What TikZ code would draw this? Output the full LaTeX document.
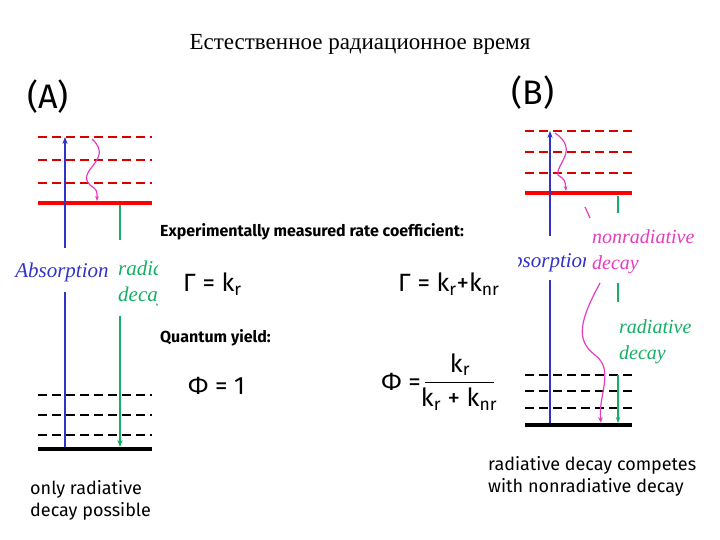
\documentclass[tikz,border=0pt]{standalone}
\usepackage{fontspec}
\setsansfont{Fira Sans}
\newfontfamily\cyr{Liberation Serif}
\usetikzlibrary{arrows.meta}
\definecolor{gcol}{RGB}{20,175,100}
\definecolor{bcol}{RGB}{50,50,200}
\definecolor{pcol}{RGB}{230,60,190}
\begin{document}
\begin{tikzpicture}[x=1pt,y=-1pt,
 rd/.style={red!85!black,line width=1.5pt,dash pattern=on 9pt off 5pt},
 rthick/.style={red,line width=3.5pt},
 bd/.style={black,line width=1.5pt,dash pattern=on 9pt off 5pt},
 bthick/.style={black,line width=4pt},
 ab/.style={bcol,line width=1.6pt},
 gr/.style={gcol,line width=1.8pt},
 pk/.style={pcol,line width=1.2pt},
 lab/.style={font=\sffamily, anchor=west, inner sep=0pt},
 fm/.style={anchor=west, inner sep=0pt, font=\sffamily\fontsize{25}{25}\selectfont},
 it/.style={font=\cyr\itshape\fontsize{21}{21}\selectfont, inner sep=0pt}]
\useasboundingbox (0,0) rectangle (720,540);
\node[font=\cyr\fontsize{23}{23}\selectfont] (title) at (360,44) {Естественное радиационное время};
\node[font=\sffamily\fontsize{34}{34}\selectfont] (A) at (48,97) {(A)};
\node[font=\sffamily\fontsize{34}{34}\selectfont] (B) at (533,93) {(B)};
% (A)
\foreach \y in {137,160,183}{\draw[rd] (38,\y) -- (152,\y);}
\draw[rthick] (38,203) -- (152,203);
\foreach \y in {395,415,435}{\draw[bd] (38,\y) -- (152,\y);}
\draw[bthick] (38,449) -- (152,449);
\coordinate (a1) at (65,447); \coordinate (a2) at (65,292);
\coordinate (a3) at (65,248); \coordinate (a4) at (65,137);
\draw[ab] (a1) -- (a2);
\draw[ab,-{Stealth[length=7pt]}] (a3) -- (a4);
\node[it,text=bcol] (absA) at (62,272) {Absorption};
\coordinate (g1) at (120,205); \coordinate (g2) at (120,240);
\coordinate (g3) at (120,316); \coordinate (g4) at (120,447);
\draw[gr] (g1) -- (g2);
\draw[gr,-{Stealth[length=7pt]}] (g3) -- (g4);
\begin{scope}
\clip (110,250) rectangle (157,310);
\node[it,text=gcol,anchor=west] (radA) at (118,268) {radiative};
\node[it,text=gcol,anchor=west] (decA) at (118,296) {decay};
\end{scope}
\coordinate (wA1) at (92,139); \coordinate (wA2) at (97,201);
\draw[pk,-{Stealth[length=5pt]}] (wA1) .. controls (115,160) and (75,170) .. (90,185) .. controls (97,190) .. (wA2);
% middle
\node[lab,font=\sffamily\bfseries\fontsize{16}{16}\selectfont] (exp) at (160,232) {Experimentally measured rate coefficient:};
\node[fm] (g1t) at (183,284) {Γ = k\textsubscript{r}};
\node[fm] (g2t) at (398,284) {Γ = k\textsubscript{r}+k\textsubscript{nr}};
\node[lab,font=\sffamily\bfseries\fontsize{16}{16}\selectfont] (qy) at (160,338) {Quantum yield:};
\node[fm] (p1) at (188,386) {Φ = 1};
\node[fm,anchor=east] (p2) at (421,382) {Φ =};
\node[fm,anchor=south] (num) at (460,376) {k\textsubscript{r}};
\node[fm,anchor=north] (den) at (459,388) {k\textsubscript{r} + k\textsubscript{nr}};
\draw[line width=0.8pt] (425,382) -- (494,382);
% (B)
\foreach \y in {131,152,173}{\draw[rd] (525,\y) -- (632,\y);}
\draw[rthick] (525,193) -- (632,193);
\foreach \y in {375,391,408}{\draw[bd] (525,\y) -- (632,\y);}
\draw[bthick] (525,425) -- (632,425);
\coordinate (b1) at (550,423); \coordinate (b2) at (550,280);
\coordinate (b3) at (550,236); \coordinate (b4) at (550,131);
\draw[ab] (b1) -- (b2);
\draw[ab,-{Stealth[length=7pt]}] (b3) -- (b4);
\begin{scope}
\clip (518,245) rectangle (585,280);
\node[it,text=bcol] (absB) at (546,262) {Absorption};
\end{scope}
\coordinate (wB1) at (555,133); \coordinate (wB2) at (566,191);
\draw[pk,-{Stealth[length=5pt]}] (wB1) .. controls (580,150) and (555,165) .. (558,175) .. controls (565,180) .. (wB2);
\node[it,text=pcol,anchor=west,font=\cyr\itshape\fontsize{20}{20}\selectfont] (nonr) at (592,237) {nonradiative};
\node[it,text=pcol,anchor=west,font=\cyr\itshape\fontsize{20}{20}\selectfont] (decB) at (592,265) {decay};
\coordinate (n1) at (585,207); \coordinate (n2) at (590,218);
\draw[pk] (n1) -- (n2);
\coordinate (n3) at (600,283); \coordinate (n4) at (601,423);
\draw[pk,-{Stealth[length=6pt]}] (n3) .. controls (580,320) and (575,340) .. (595,355) .. controls (615,370) and (598,395) .. (n4);
\coordinate (r1) at (618,196); \coordinate (r2) at (618,213);
\coordinate (r3) at (618,283); \coordinate (r4) at (618,302);
\coordinate (r5) at (618,375); \coordinate (r6) at (618,423);
\draw[gr,line width=1.4pt] (r1) -- (r2);
\draw[gr,line width=1.4pt] (r3) -- (r4);
\draw[gr,line width=1.4pt,-{Stealth[length=6pt]}] (r5) -- (r6);
\node[it,text=gcol,anchor=west,font=\cyr\itshape\fontsize{20}{20}\selectfont] (radB) at (619,327) {radiative};
\node[it,text=gcol,anchor=west,font=\cyr\itshape\fontsize{20}{20}\selectfont] (decB2) at (619,355) {decay};
% captions
\node[lab,font=\sffamily\fontsize{18}{22}\selectfont,align=left,anchor=north west] (capA) at (30,480) {only radiative\\decay possible};
\node[lab,font=\sffamily\fontsize{18}{22}\selectfont,align=left,anchor=north west] (capB) at (488,456) {radiative decay competes\\with nonradiative decay};
\end{tikzpicture}
\end{document}
